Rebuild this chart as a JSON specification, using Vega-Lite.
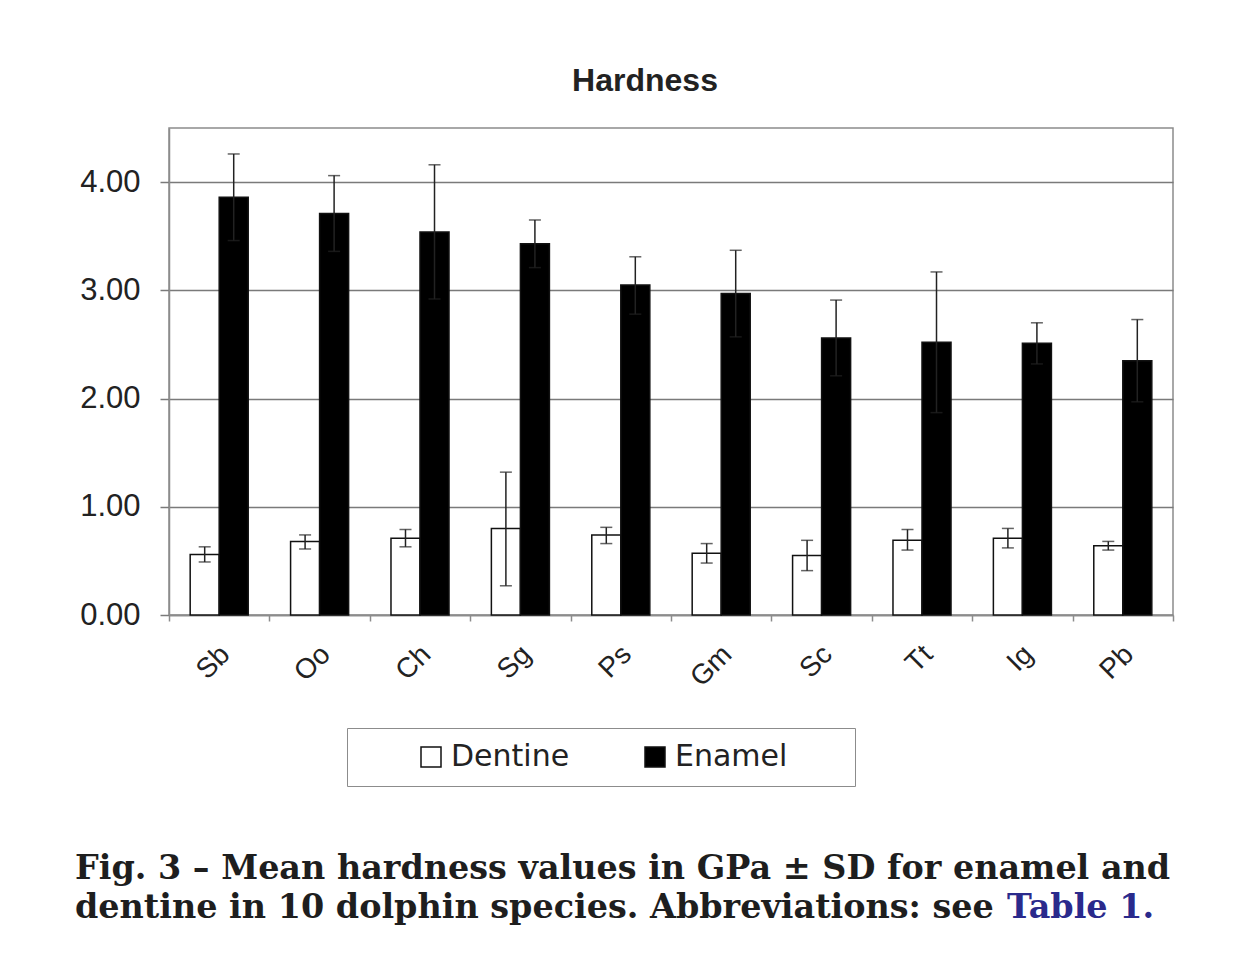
{
  "$schema": "https://vega.github.io/schema/vega-lite/v6.json",
  "background": "white",
  "padding": {"left": 75, "top": 64, "right": 10, "bottom": 10},
  "spacing": 151,
  "config": {
    "font": "Liberation Sans",
    "view": {"stroke": "#8c8c8c", "strokeWidth": 1.5}
  },
  "vconcat": [
    {
      "width": 1004,
      "height": 487,
      "title": {"text": "Hardness", "font": "Liberation Sans", "fontSize": 32, "fontWeight": "bold", "color": "#222222", "offset": 30, "dx": -26},
      "data": {"values": [
        {"species": "Sb", "tissue": "Dentine", "mean": 0.56, "lo": 0.49, "hi": 0.63},
        {"species": "Sb", "tissue": "Enamel", "mean": 3.86, "lo": 3.46, "hi": 4.26},
        {"species": "Oo", "tissue": "Dentine", "mean": 0.68, "lo": 0.61, "hi": 0.74},
        {"species": "Oo", "tissue": "Enamel", "mean": 3.71, "lo": 3.36, "hi": 4.06},
        {"species": "Ch", "tissue": "Dentine", "mean": 0.71, "lo": 0.63, "hi": 0.79},
        {"species": "Ch", "tissue": "Enamel", "mean": 3.54, "lo": 2.92, "hi": 4.16},
        {"species": "Sg", "tissue": "Dentine", "mean": 0.80, "lo": 0.27, "hi": 1.32},
        {"species": "Sg", "tissue": "Enamel", "mean": 3.43, "lo": 3.21, "hi": 3.65},
        {"species": "Ps", "tissue": "Dentine", "mean": 0.74, "lo": 0.66, "hi": 0.81},
        {"species": "Ps", "tissue": "Enamel", "mean": 3.05, "lo": 2.78, "hi": 3.31},
        {"species": "Gm", "tissue": "Dentine", "mean": 0.57, "lo": 0.48, "hi": 0.66},
        {"species": "Gm", "tissue": "Enamel", "mean": 2.97, "lo": 2.57, "hi": 3.37},
        {"species": "Sc", "tissue": "Dentine", "mean": 0.55, "lo": 0.41, "hi": 0.69},
        {"species": "Sc", "tissue": "Enamel", "mean": 2.56, "lo": 2.21, "hi": 2.91},
        {"species": "Tt", "tissue": "Dentine", "mean": 0.69, "lo": 0.60, "hi": 0.79},
        {"species": "Tt", "tissue": "Enamel", "mean": 2.52, "lo": 1.87, "hi": 3.17},
        {"species": "Ig", "tissue": "Dentine", "mean": 0.71, "lo": 0.62, "hi": 0.80},
        {"species": "Ig", "tissue": "Enamel", "mean": 2.51, "lo": 2.32, "hi": 2.70},
        {"species": "Pb", "tissue": "Dentine", "mean": 0.64, "lo": 0.60, "hi": 0.68},
        {"species": "Pb", "tissue": "Enamel", "mean": 2.35, "lo": 1.97, "hi": 2.73}
      ]},
      "encoding": {
        "x": {
          "field": "species", "type": "nominal", "sort": null,
          "scale": {"paddingInner": 0, "paddingOuter": 0},
          "axis": {
            "title": null, "tickBand": "extent", "tickSize": 6, "tickColor": "#8c8c8c", "tickWidth": 1.5,
            "domainColor": "#8c8c8c", "domainWidth": 1.5, "grid": false,
            "labelAngle": -45, "labelAlign": "right", "labelBaseline": "middle",
            "labelFont": "Liberation Sans", "labelFontSize": 28, "labelColor": "#222222",
            "labelPadding": 29, "labelOffset": 6
          }
        },
        "xOffset": {"field": "tissue", "type": "nominal", "sort": ["Dentine", "Enamel"], "scale": {"paddingInner": 0, "paddingOuter": 0.73}}
      },
      "layer": [
        {
          "mark": {"type": "bar", "stroke": "#111111", "strokeWidth": 1.5},
          "encoding": {
            "y": {
              "field": "mean", "type": "quantitative", "title": null,
              "scale": {"domain": [0, 4.5], "nice": false, "zero": true},
              "axis": {
                "values": [0, 1, 2, 3, 4], "format": ".2f", "grid": true,
                "gridColor": "#7a7a7a", "gridWidth": 1.5, "gridOpacity": 1,
                "domainColor": "#8c8c8c", "domainWidth": 1.5,
                "tickColor": "#7a7a7a", "tickSize": 9, "tickWidth": 1.5,
                "labelFont": "Liberation Sans", "labelFontSize": 31, "labelColor": "#222222", "labelPadding": 20
              }
            },
            "fill": {
              "field": "tissue", "type": "nominal",
              "scale": {"domain": ["Dentine", "Enamel"], "range": ["#ffffff", "#000000"]},
              "legend": {
                "orient": "none", "legendX": 178, "legendY": 600, "direction": "horizontal",
                "title": "MM", "titleOrient": "left", "titleFontSize": 30, "titleColor": "#ffffff", "titlePadding": 5,
                "labelExpr": "datum.label === 'Enamel' ? datum.label + '\u00a0\u2800\u2800' : datum.label",
                "labelFont": "DejaVu Sans", "labelFontSize": 30, "labelColor": "#222222", "labelOffset": 5, "labelLimit": 400,
                "symbolType": "square", "symbolSize": 400, "symbolStrokeColor": "#111111", "symbolStrokeWidth": 1.5,
                "columnPadding": 70, "padding": 14, "strokeColor": "#8c8c8c", "fillColor": "#ffffff"
              }
            }
          }
        },
        {
          "mark": {"type": "rule", "color": "#222222", "strokeWidth": 1.5},
          "encoding": {
            "y": {"field": "lo", "type": "quantitative", "title": null},
            "y2": {"field": "hi"}
          }
        },
        {
          "mark": {"type": "tick", "color": "#222222", "thickness": 1.5, "size": 12},
          "encoding": {"y": {"field": "lo", "type": "quantitative", "title": null}}
        },
        {
          "mark": {"type": "tick", "color": "#222222", "thickness": 1.5, "size": 12},
          "encoding": {"y": {"field": "hi", "type": "quantitative", "title": null}}
        }
      ]
    },
    {
      "width": 1004,
      "height": 109,
      "view": {"stroke": null},
      "data": {"values": [
        {"line": "1", "part": "main", "text": "Fig. 3 – Mean hardness values in GPa ± SD for enamel and"},
        {"line": "2", "part": "main", "text": "dentine in 10 dolphin species. Abbreviations: see"},
        {"line": "2", "part": "link", "text": "Table 1."}
      ]},
      "encoding": {
        "y": {"field": "line", "type": "ordinal", "sort": ["1", "2"], "scale": {"type": "point", "padding": 0.897}, "axis": null},
        "text": {"field": "text"},
        "color": {"field": "part", "type": "nominal", "scale": {"domain": ["main", "link"], "range": ["#1e1e1e", "#2a2a8c"]}, "legend": null}
      },
      "layer": [
        {
          "transform": [{"filter": "datum.part === 'main'"}],
          "mark": {"type": "text", "align": "left", "baseline": "alphabetic", "font": "DejaVu Serif", "fontWeight": "bold", "fontSize": 33.4},
          "encoding": {"x": {"value": -94}}
        },
        {
          "transform": [{"filter": "datum.part === 'link'"}],
          "mark": {"type": "text", "align": "left", "baseline": "alphabetic", "font": "DejaVu Serif", "fontWeight": "bold", "fontSize": 33.4},
          "encoding": {"x": {"value": 838}}
        }
      ]
    }
  ]
}
